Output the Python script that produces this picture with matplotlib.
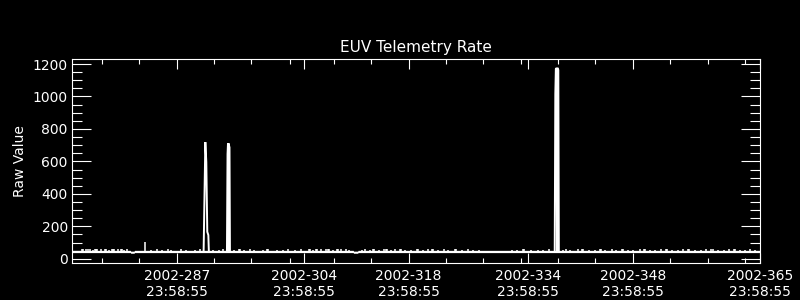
import matplotlib
matplotlib.use("Agg")
import matplotlib.pyplot as plt

# x axis is day of year 2002 (fractional), from 2002-273 23:58:55 to 2002-365 23:58:55
x_start = 273.0
x_end = 365.0

# labelled ticks and the small ticks in between
major_days = [287, 304, 318, 334, 348, 365]
major_labels = ["2002-287\n23:58:55", "2002-304\n23:58:55", "2002-318\n23:58:55",
                "2002-334\n23:58:55", "2002-348\n23:58:55", "2002-365\n23:58:55"]
minor_days = [277, 282, 292, 297, 302.2, 308.1, 313, 323, 328, 333, 338, 343, 353, 358, 363]

y_ticks = [0, 200, 400, 600, 800, 1000, 1200]

# quiet level of the rate: a band between low and high value
band_days = [273.0, 280.8, 280.85, 281.3, 281.35, 310.6, 310.65, 311.2, 311.25, 365.0]
band_low = [38, 38, 34, 34, 38, 38, 34, 34, 38, 38]
band_high = [52, 52, 47, 47, 52, 52, 47, 47, 52, 52]

# small samples sticking out above the quiet level
bump_days = [274.3, 274.45, 274.9, 275.2, 275.35, 275.8, 276.1, 276.25, 276.4, 276.9,
             277.4, 277.55, 277.9, 278.3, 278.45, 278.6, 279.1, 279.5, 279.65, 280.0, 280.4,
             282.8, 283.6, 284.4, 285.1, 285.9, 286.3, 287.6, 288.2, 289.4, 290.1,
             291.8, 292.6, 293.2,
             294.6, 295.3, 295.45, 296.0, 296.8, 297.3, 298.5, 299.1, 299.25, 300.4, 301.2, 301.9,
             302.8, 303.6, 304.7, 304.85, 305.2, 305.6, 305.75, 306.3, 306.9, 307.2, 307.35,
             307.9, 308.4, 308.55, 309.0, 309.6, 310.1,
             311.8, 312.2, 312.8, 313.3, 313.45, 314.1, 314.7, 315.0, 315.15, 315.7, 316.2,
             316.8, 316.95, 317.5, 318.3, 319.1, 319.25, 320.0, 320.6, 321.1, 321.25, 322.0,
             322.7, 323.3, 324.2, 324.35, 325.1, 325.9, 326.6, 327.4,
             331.9, 332.5, 333.3, 333.45, 334.4, 335.3, 336.0, 336.8,
             338.6, 339.1, 339.6, 340.7, 341.2, 341.35, 342.1, 343.0, 343.6, 343.75, 344.3,
             345.2, 345.8, 346.5, 346.65, 347.4, 348.0, 348.9, 349.5, 349.65, 350.3, 351.0,
             351.8, 352.4, 352.55, 353.2, 354.0, 354.7, 355.4, 355.55, 356.3, 357.1, 357.8,
             358.5, 358.65, 359.4, 360.2, 360.9, 361.5, 361.65, 362.3, 363.0, 363.7, 364.3]
bump_vals = [60, 60, 58, 61, 61, 57, 62, 62, 59, 58,
             61, 61, 57, 60, 60, 58, 59, 62, 62, 57, 58,
             103, 56, 58, 57, 59, 56, 58, 57, 56, 58,
             57, 56, 58,
             57, 59, 59, 56, 58, 57, 56, 59, 59, 57, 56, 58,
             57, 59, 60, 60, 57, 61, 61, 58, 60, 59, 59,
             57, 60, 60, 58, 59, 57,
             56, 58, 57, 60, 60, 57, 58, 59, 59, 56, 58,
             60, 60, 57, 56, 59, 59, 57, 58, 60, 60, 56,
             58, 57, 59, 59, 56, 58, 57, 56,
             57, 56, 58, 58, 56, 57, 56, 58,
             57, 58, 56, 59, 58, 58, 56, 57, 59, 59, 56,
             58, 57, 59, 59, 56, 57, 58, 60, 60, 56, 57,
             58, 59, 59, 56, 57, 58, 59, 59, 56, 57, 58,
             59, 59, 57, 56, 58, 59, 59, 57, 56, 58, 57]

# the three bursts, sampled finely
spike1_days = [290.60, 290.69, 290.83, 290.96, 291.09, 291.23, 291.30]
spike1_vals = [45, 312, 719, 596, 166, 146, 45]
spike2_days = [293.72, 293.80, 293.86, 293.90, 293.93, 294.06, 294.12]
spike2_vals = [45, 645, 711, 40, 711, 686, 45]
spike3_days = [337.55, 337.63, 337.70, 337.78, 337.86, 337.90, 337.95, 338.03, 338.10]
spike3_vals = [45, 1015, 1169, 1175, 37, 1173, 1173, 1163, 45]

font_size = 10
fg = "white"

plt.rcParams["font.family"] = ["DejaVu Sans"]

fig = plt.figure(figsize=(8, 3), dpi=100, facecolor="black")
ax = fig.add_axes([72 / 800, 1 - 263 / 300, (760 - 72) / 800, (263 - 59) / 300])
ax.set_facecolor("black")

# quiet band and the small bumps
ax.fill_between(band_days, band_low, band_high, color=fg, linewidth=0)
ax.vlines(bump_days, 45, bump_vals, color=fg, linewidth=1.1)

# bursts
for d, v in [(spike1_days, spike1_vals), (spike2_days, spike2_vals), (spike3_days, spike3_vals)]:
    ax.plot(d, v, color=fg, linewidth=1.4, solid_joinstyle="miter")

ax.set_xlim(x_start, x_end)
ax.set_ylim(-26, 1231)

ax.set_xticks(major_days)
ax.set_xticklabels(major_labels)
ax.set_xticks(minor_days, minor=True)
ax.set_yticks(y_ticks)
ax.set_yticks(range(0, 1201, 50), minor=True)

ax.tick_params(axis="x", which="major", direction="in", length=7, width=0.8,
               top=True, bottom=True, colors=fg, labelsize=font_size, pad=4)
ax.tick_params(axis="x", which="minor", direction="in", length=3.5, width=0.8,
               top=True, bottom=True, colors=fg)
ax.tick_params(axis="y", which="major", direction="in", length=14, width=0.8,
               left=True, right=True, colors=fg, labelsize=font_size, pad=3)
ax.tick_params(axis="y", which="minor", direction="in", length=7, width=0.8,
               left=True, right=True, colors=fg)

for s in ax.spines.values():
    s.set_color(fg)
    s.set_linewidth(0.8)

ax.set_title("EUV Telemetry Rate", color=fg, fontsize=11, pad=5)
ax.set_ylabel("Raw Value", color=fg, fontsize=font_size)
ax.yaxis.set_label_coords((27 - 72) / 688, 0.5)

plt.savefig("out.png", dpi=100, facecolor="black")
